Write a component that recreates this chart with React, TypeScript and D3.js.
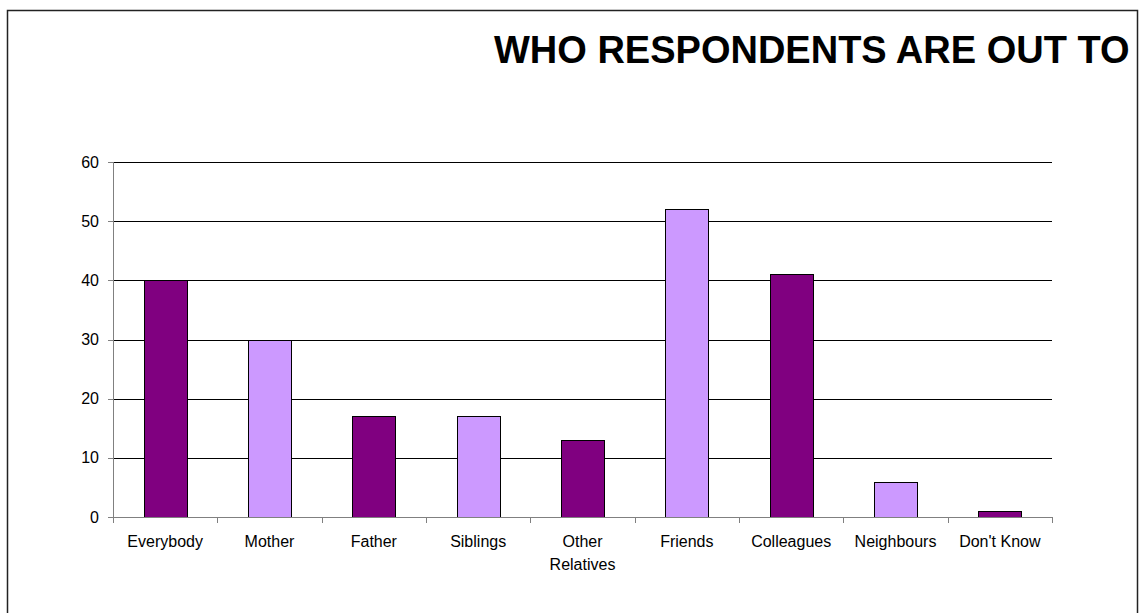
import React from "react";
import * as d3 from "d3";

const categories: string[][] = [
  ["Everybody"],
  ["Mother"],
  ["Father"],
  ["Siblings"],
  ["Other", "Relatives"],
  ["Friends"],
  ["Colleagues"],
  ["Neighbours"],
  ["Don't Know"],
];
const values: number[] = [40, 30, 17, 17, 13, 52, 41, 6, 1];
const yTicks: number[] = [0, 10, 20, 30, 40, 50, 60];
const title = "WHO RESPONDENTS ARE OUT TO";

const W = 1143;
const H = 613;
const plot = { left: 113, right: 1052, top: 162, bottom: 517 };
const DARK = "#800080";
const LIGHT = "#CC99FF";
const FONT = "Arial, 'Liberation Sans', Helvetica, sans-serif";

export default function App() {
  const keys = categories.map((c) => c.join(" "));
  const x = d3
    .scaleBand<string>()
    .domain(keys)
    .range([plot.left, plot.right])
    .paddingInner(0.585)
    .paddingOuter(0.585 / 2);
  const y = d3.scaleLinear().domain([0, 60]).range([plot.bottom, plot.top]);
  const step = x.step();
  const boundaries = d3.range(categories.length + 1).map((i) => plot.left + i * step);

  return (
    <svg
      width={W}
      height={H}
      style={{ position: "absolute", left: 0, top: 0, background: "#fff" }}
      fontFamily={FONT}
    >
      <rect x={0} y={0} width={W} height={H} fill="#fff" />
      <rect
        x={7.5}
        y={10.5}
        width={1130}
        height={620}
        fill="#fff"
        stroke="#222"
        strokeWidth={1.5}
      />
      <text x={494} y={63} fontSize={38} fontWeight="bold" fill="#000">
        {title}
      </text>

      {/* gridlines */}
      {yTicks
        .filter((t) => t > 0)
        .map((t) => (
          <line
            key={"g" + t}
            x1={plot.left}
            x2={plot.right}
            y1={Math.round(y(t)) + 0.5}
            y2={Math.round(y(t)) + 0.5}
            stroke="#000"
            strokeWidth={1}
          />
        ))}

      {/* bars */}
      {values.map((v, i) => (
        <rect
          key={"b" + i}
          x={Math.round(x(keys[i])!) + 0.5}
          y={Math.round(y(v)) + 0.5}
          width={Math.round(x.bandwidth())}
          height={Math.round(y(0)) - Math.round(y(v))}
          fill={i % 2 === 0 ? DARK : LIGHT}
          stroke="#000"
          strokeWidth={1}
        />
      ))}

      {/* y axis */}
      <line
        x1={plot.left + 0.5}
        x2={plot.left + 0.5}
        y1={plot.top}
        y2={plot.bottom + 5}
        stroke="#808080"
      />
      {yTicks.map((t) => (
        <g key={"y" + t}>
          <line
            x1={plot.left - 5}
            x2={plot.left}
            y1={Math.round(y(t)) + 0.5}
            y2={Math.round(y(t)) + 0.5}
            stroke="#808080"
          />
          <text
            x={99}
            y={y(t)}
            dy="0.35em"
            textAnchor="end"
            fontSize={16}
            fill="#000"
          >
            {t}
          </text>
        </g>
      ))}

      {/* x axis */}
      <line
        x1={plot.left}
        x2={plot.right + 1}
        y1={plot.bottom + 0.5}
        y2={plot.bottom + 0.5}
        stroke="#808080"
      />
      {boundaries.map((bx, i) => (
        <line
          key={"xt" + i}
          x1={Math.round(bx) + 0.5}
          x2={Math.round(bx) + 0.5}
          y1={plot.bottom}
          y2={plot.bottom + 6}
          stroke="#808080"
        />
      ))}
      {categories.map((lines, i) => (
        <text
          key={"xl" + i}
          x={x(keys[i])! + x.bandwidth() / 2}
          y={547}
          textAnchor="middle"
          fontSize={16}
          fill="#000"
        >
          {lines.map((l, j) => (
            <tspan key={j} x={x(keys[i])! + x.bandwidth() / 2} dy={j === 0 ? 0 : 23}>
              {l}
            </tspan>
          ))}
        </text>
      ))}
    </svg>
  );
}
